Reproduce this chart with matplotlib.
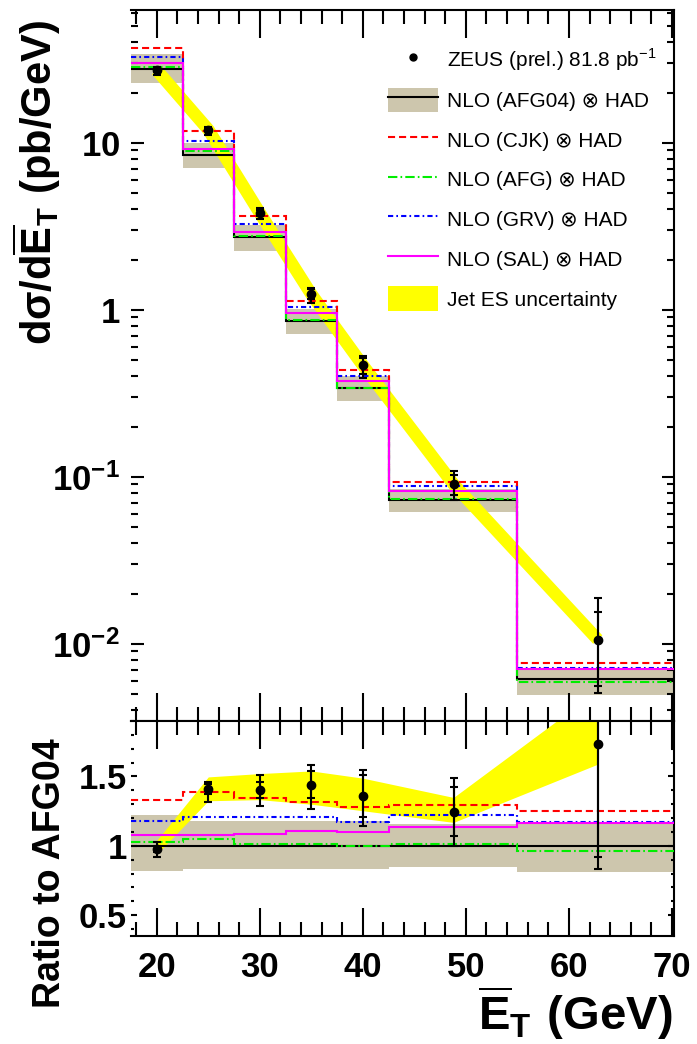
import matplotlib
matplotlib.use('Agg')
import matplotlib.pyplot as plt
from matplotlib.patches import Patch
from matplotlib.lines import Line2D
from matplotlib.ticker import MultipleLocator, LogLocator, NullFormatter
import numpy as np

# bin edges of mean E_T (GeV)
binEdges = [17.5, 22.5, 27.5, 32.5, 37.5, 42.5, 55, 71]
# ZEUS (prel.) data points
dataX = [20, 25, 30, 35, 40, 48.8, 62.8]
dataY = [27.2, 12.0, 3.8, 1.24, 0.465, 0.0903, 0.0106]
# errors as fraction of the value: stat (inner) and total (outer)
statErr = [0.02, 0.025, 0.04, 0.067, 0.11, 0.14, 0.47]
totUp = [0.05, 0.035, 0.077, 0.096, 0.14, 0.195, 0.78]
totDn = [0.06, 0.07, 0.08, 0.12, 0.16, 0.20, 0.52]
# NLO (AFG04) x HAD and its uncertainty band (ratio to AFG04)
afg04 = [27.8, 8.5, 2.71, 0.86, 0.342, 0.0724, 0.00612]
afg04Lo = [0.82, 0.83, 0.83, 0.83, 0.83, 0.845, 0.81]
afg04Hi = [1.22, 1.18, 1.18, 1.18, 1.18, 1.16, 1.155]
# other photon PDFs, ratio to AFG04
ratioCJK = [1.33, 1.385, 1.342, 1.313, 1.277, 1.294, 1.251]
ratioAFG = [1.029, 1.05, 1.014, 1.014, 1.0, 1.014, 0.966]
ratioGRV = [1.177, 1.205, 1.205, 1.205, 1.174, 1.22, 1.174]
ratioSAL = [1.076, 1.076, 1.086, 1.11, 1.103, 1.134, 1.162]
# jet energy scale uncertainty in the ratio panel
esLo = [0.94, 1.325, 1.333, 1.30, 1.253, 1.169, 1.589]
esHi = [1.04, 1.497, 1.521, 1.54, 1.488, 1.349, 2.12]

legendLabels = ['ZEUS (prel.) 81.8 pb$^{-1}$', 'NLO (AFG04) \u2297 HAD', 'NLO (CJK) \u2297 HAD',
                'NLO (AFG) \u2297 HAD', 'NLO (GRV) \u2297 HAD', 'NLO (SAL) \u2297 HAD', 'Jet ES uncertainty']
yTicksTop = [0.01, 0.1, 1, 10]
yTickLabelsTop = [r'$\mathbf{10^{-2}}$', r'$\mathbf{10^{-1}}$', r'$\mathbf{1}$', r'$\mathbf{10}$']
yTicksRatio = [0.5, 1, 1.5]
yTickLabelsRatio = ['0.5', '1', '1.5']
xTicks = [20, 30, 40, 50, 60, 70]

plt.rcParams['font.family'] = ['Liberation Sans', 'DejaVu Sans']
plt.rcParams['mathtext.fontset'] = 'custom'
plt.rcParams['mathtext.rm'] = 'Liberation Sans'
plt.rcParams['mathtext.bf'] = 'Liberation Sans:bold'

tan = '#cdc6ad'
cjkStyle = (0, (3.4, 1.9))
afgStyle = (0, (4.5, 1.5, 0.8, 1.5))
grvStyle = (0, (2.5, 1.5, 0.8, 1.5))
lw = 1.5

afg04 = np.array(afg04)
dataY = np.array(dataY)
dataRatio = dataY / np.array([afg04[np.searchsorted(binEdges, x) - 1] for x in dataX])

fig = plt.figure(figsize=(6.97, 10.44), dpi=100)
axTop = fig.add_axes([131 / 697, 1 - 721 / 1044, 543 / 697, 711 / 1044])
axRat = fig.add_axes([131 / 697, 1 - 936 / 1044, 543 / 697, 215 / 1044], sharex=axTop)

# ---- top panel: cross section ----
axTop.stairs(afg04 * np.array(afg04Hi), binEdges, baseline=afg04 * np.array(afg04Lo),
             fill=True, color=tan, lw=0, zorder=1)
axTop.plot(dataX, dataY, color='yellow', lw=9, solid_capstyle='butt', zorder=2)
axTop.stairs(afg04, binEdges, baseline=None, color='k', lw=lw, zorder=3)
axTop.stairs(afg04 * np.array(ratioAFG), binEdges, baseline=None, color='#00ee00', lw=lw, ls=afgStyle, zorder=3)
axTop.stairs(afg04 * np.array(ratioGRV), binEdges, baseline=None, color='blue', lw=lw, ls=grvStyle, zorder=3)
axTop.stairs(afg04 * np.array(ratioCJK), binEdges, baseline=None, color='red', lw=lw, ls=cjkStyle, zorder=3)
axTop.stairs(afg04 * np.array(ratioSAL), binEdges, baseline=None, color='magenta', lw=lw, zorder=4)
axTop.errorbar(dataX, dataY, yerr=[dataY * np.array(totDn), dataY * np.array(totUp)], fmt='o', color='k',
               ms=6, elinewidth=1.5, capsize=3, capthick=1.5, zorder=5)
axTop.errorbar(dataX, dataY, yerr=dataY * np.array(statErr), fmt='none', ecolor='k',
               elinewidth=1.5, capsize=3, capthick=1.5, zorder=5)
axTop.set_yscale('log')
axTop.set_ylim(0.00345, 62.4)
axTop.set_xlim(17.5, 70.2)
axTop.set_yticks(yTicksTop)
axTop.set_yticklabels(yTickLabelsTop)
axTop.yaxis.set_minor_locator(LogLocator(base=10, subs=np.arange(2, 10)))
axTop.yaxis.set_minor_formatter(NullFormatter())

# ---- ratio panel ----
axRat.stairs(afg04Hi, binEdges, baseline=afg04Lo, fill=True, color=tan, lw=0, zorder=1)
axRat.fill_between(dataX, esLo, esHi, color='yellow', lw=0, zorder=2)
axRat.stairs(np.ones(7), binEdges, baseline=None, color='k', lw=lw, zorder=3)
axRat.stairs(ratioAFG, binEdges, baseline=None, color='#00ee00', lw=lw, ls=afgStyle, zorder=3)
axRat.stairs(ratioGRV, binEdges, baseline=None, color='blue', lw=lw, ls=grvStyle, zorder=3)
axRat.stairs(ratioCJK, binEdges, baseline=None, color='red', lw=lw, ls=cjkStyle, zorder=3)
axRat.stairs(ratioSAL, binEdges, baseline=None, color='magenta', lw=lw, zorder=4)
axRat.errorbar(dataX, dataRatio, yerr=[dataRatio * np.array(totDn), dataRatio * np.array(totUp)], fmt='o',
               color='k', ms=6, elinewidth=1.5, capsize=3, capthick=1.5, zorder=5)
axRat.errorbar(dataX, dataRatio, yerr=dataRatio * np.array(statErr), fmt='none', ecolor='k',
               elinewidth=1.5, capsize=3, capthick=1.5, zorder=5)
axRat.set_ylim(0.35, 1.9)
axRat.set_yticks(yTicksRatio)
axRat.set_yticklabels(yTickLabelsRatio)
axRat.yaxis.set_minor_locator(MultipleLocator(0.1))
axRat.set_xticks(xTicks)
axRat.set_xticklabels([str(t) for t in xTicks])
axRat.xaxis.set_minor_locator(MultipleLocator(2))

# ---- ticks and frames ----
for ax in (axTop, axRat):
    ax.spines['left'].set_visible(False)
    for s in ('top', 'bottom', 'right'):
        ax.spines[s].set_linewidth(1.5)
    ax.tick_params(axis='x', which='both', direction='in', top=True, bottom=True, width=1.5)
    ax.tick_params(axis='x', which='major', length=20)
    ax.tick_params(axis='x', which='minor', length=10)
    ax.tick_params(axis='y', which='both', direction='in', left=True, right=True, width=1.5)
    for lab in ax.get_xticklabels() + ax.get_yticklabels():
        lab.set_fontweight('bold')
axTop.tick_params(axis='x', labelbottom=False)
axTop.tick_params(axis='y', which='major', length=9, labelsize=25, pad=8)
axTop.tick_params(axis='y', which='minor', length=5)
axRat.tick_params(axis='y', which='major', length=4, labelsize=25, pad=3)
axRat.tick_params(axis='y', which='minor', length=2)
axRat.tick_params(axis='x', which='major', labelsize=25, pad=11)

# ---- legend ----
handles = [Line2D([], [], marker='o', ls='none', color='k', ms=5),
           (Patch(fc=tan, ec='none'), Line2D([], [], color='k', lw=lw)),
           Line2D([], [], color='red', lw=lw, ls=cjkStyle),
           Line2D([], [], color='#00ee00', lw=lw, ls=afgStyle),
           Line2D([], [], color='blue', lw=lw, ls=grvStyle),
           Line2D([], [], color='magenta', lw=lw),
           Patch(fc='yellow', ec='none')]
fig.legend(handles, legendLabels, loc='upper left', bbox_to_anchor=(388 / 697, 1 - 46 / 1044),
           frameon=False, fontsize=15, handlelength=2.4, handletextpad=0.45, handleheight=1.45,
           labelspacing=0.72, borderpad=0, borderaxespad=0)

# ---- axis titles ----
fig.text(37 / 697, 1 - 20 / 1044, r'$\mathbf{d\sigma/d\overline{E}_T\ (pb/GeV)}$', rotation=90,
         ha='center', va='top', fontsize=30)
fig.text(50 / 697, 1 - 1008 / 1044, 'Ratio to AFG04', rotation=90, ha='center', va='bottom',
         fontsize=27, fontweight='bold')
fig.text(672 / 697, 2 / 1044, r'$\mathbf{\overline{E}_T\ (GeV)}$', ha='right', va='bottom', fontsize=34)

fig.savefig('out.png', dpi=100)
